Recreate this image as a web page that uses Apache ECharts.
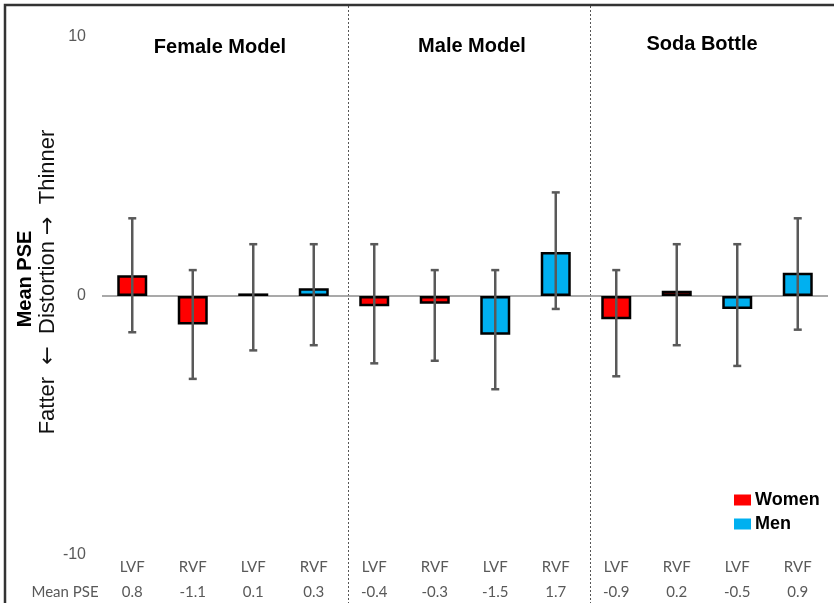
<!DOCTYPE html>
<html>
<head>
<meta charset="utf-8">
<script src="https://cdn.jsdelivr.net/npm/echarts@6/dist/echarts.min.js"></script>
<style>
  html, body { margin: 0; padding: 0; background: #fff; }
  #chart { width: 834px; height: 603px; }
</style>
</head>
<body>
<div id="chart"></div>
<script>
// 数据
const groups = ['Female Model', 'Male Model', 'Soda Bottle'];
const fields = ['LVF', 'RVF', 'LVF', 'RVF', 'LVF', 'RVF', 'LVF', 'RVF', 'LVF', 'RVF', 'LVF', 'RVF'];
const sexes = ['Women', 'Women', 'Men', 'Men', 'Women', 'Women', 'Men', 'Men', 'Women', 'Women', 'Men', 'Men'];
const meanPSE = [0.8, -1.1, 0.1, 0.3, -0.4, -0.3, -1.5, 1.7, -0.9, 0.2, -0.5, 0.9];
const errLow = [-1.4, -3.2, -2.1, -1.9, -2.6, -2.5, -3.6, -0.5, -3.1, -1.9, -2.7, -1.3];
const errHigh = [3.0, 1.0, 2.0, 2.0, 2.0, 1.0, 1.0, 4.0, 1.0, 2.0, 2.0, 3.0];
const yTicks = [-10, 0, 10];

const colors = { Women: '#ff0000', Men: '#00b0f0' };
const font = 'Liberation Sans, Arial, sans-serif';
const gray = '#595959';

const chart = echarts.init(document.getElementById('chart'));

// 柱子（按性别拆成两个系列，重叠放置）
const barSeries = ['Women', 'Men'].map((sex, k) => ({
  name: sex,
  type: 'bar',
  barWidth: 30,
  barGap: '-100%',
  data: meanPSE.map((v, i) => sexes[i] === sex ? v : '-'),
  itemStyle: { color: colors[sex], borderColor: '#000', borderWidth: 2.5 },
  z: 3,
  markLine: k === 0 ? {
    silent: true,
    symbol: 'none',
    label: { show: false },
    lineStyle: { color: '#8c8c8c', width: 1.5, type: 'solid' },
    data: [{ yAxis: 0 }],
    z: 1
  } : undefined
}));

// 误差线
const errSeries = {
  type: 'custom',
  silent: true,
  z: 10,
  encode: { x: 0, y: [1, 2] },
  data: errLow.map((lo, i) => [i, lo, errHigh[i]]),
  renderItem(params, api) {
    const x = api.value(0);
    const lo = api.coord([x, api.value(1)]);
    const hi = api.coord([x, api.value(2)]);
    const cap = 4;
    const style = { stroke: gray, lineWidth: 2.5 };
    return {
      type: 'group',
      children: [
        { type: 'line', shape: { x1: lo[0], y1: lo[1], x2: hi[0], y2: hi[1] }, style },
        { type: 'line', shape: { x1: lo[0] - cap, y1: lo[1], x2: lo[0] + cap, y2: lo[1] }, style },
        { type: 'line', shape: { x1: hi[0] - cap, y1: hi[1], x2: hi[0] + cap, y2: hi[1] }, style }
      ]
    };
  }
};

const option = {
  animation: false,
  backgroundColor: '#fff',
  textStyle: { fontFamily: font },
  grid: { left: 102, right: 6, top: 37, bottom: 48, containLabel: false },
  legend: {
    data: ['Women', 'Men'],
    orient: 'vertical',
    left: 734,
    top: 491,
    padding: 0,
    itemWidth: 17,
    itemHeight: 11,
    itemGap: 6,
    icon: 'rect',
    selectedMode: false,
    itemStyle: { borderWidth: 0 },
    textStyle: { fontFamily: font, fontWeight: 'bold', fontSize: 18, color: '#000', padding: [0, 0, 0, -1] }
  },
  xAxis: {
    type: 'category',
    data: fields.map((f, i) => String(i)),
    axisLine: { show: false },
    axisTick: { show: false },
    axisLabel: {
      interval: 0,
      margin: 0,
      formatter: (v, i) => `{f|${fields[i]}}\n{m|${meanPSE[i].toFixed(1)}}`,
      rich: {
        f: { color: gray, fontFamily: 'Lato', fontSize: 15, lineHeight: 25 },
        m: { color: gray, fontFamily: 'Lato', fontSize: 15, lineHeight: 25 }
      }
    }
  },
  yAxis: {
    type: 'value',
    min: yTicks[0],
    max: yTicks[yTicks.length - 1],
    interval: 10,
    axisLine: { show: false },
    axisTick: { show: false },
    splitLine: { show: false },
    axisLabel: { color: gray, fontSize: 16, margin: 16, fontFamily: font }
  },
  series: [...barSeries, errSeries]
};
chart.setOption(option);

// 分组分隔线、标题等装饰
const px = i => chart.convertToPixel({ xAxisIndex: 0 }, i);
const sep1 = (px(3) + px(4)) / 2 + 4.5;
const sep2 = (px(7) + px(8)) / 2 + 4.5;
const titlePos = [[220, 47], [472, 46], [702, 44]];

chart.setOption({
  graphic: [
    { type: 'rect', shape: { x: 5, y: 5, width: 840, height: 620 }, style: { fill: 'none', stroke: '#333', lineWidth: 2.5 }, z: 100 },
    { type: 'line', shape: { x1: sep1, y1: 6, x2: sep1, y2: 603 }, style: { stroke: '#555', lineWidth: 1, lineDash: [2, 2] } },
    { type: 'line', shape: { x1: sep2, y1: 6, x2: sep2, y2: 603 }, style: { stroke: '#555', lineWidth: 1, lineDash: [2, 2] } },
    ...groups.map((g, k) => ({
      type: 'text', x: titlePos[k][0], y: titlePos[k][1],
      style: { text: g, font: `bold 20px ${font}`, fill: '#000', textAlign: 'center', textVerticalAlign: 'middle' }
    })),
    {
      type: 'text', x: 25, y: 279, rotation: Math.PI / 2,
      style: { text: 'Mean PSE', font: `bold 20px ${font}`, fill: '#000', textAlign: 'center', textVerticalAlign: 'middle' }
    },
    {
      type: 'text', x: 48, y: 282, rotation: Math.PI / 2,
      style: {
        text: 'Fatter  {ar|\u2190}  Distortion {ar|\u2192}  Thinner',
        font: `22px ${font}`, fill: '#111', textAlign: 'center', textVerticalAlign: 'middle',
        rich: { ar: { fontFamily: 'DejaVu Sans', fontSize: 22, fill: '#111' } }
      }
    },
    {
      type: 'text', x: 65, y: 592,
      style: { text: 'Mean PSE', font: '15px Lato', fill: gray, textAlign: 'center', textVerticalAlign: 'middle' }
    }
  ]
});
</script>
</body>
</html>
